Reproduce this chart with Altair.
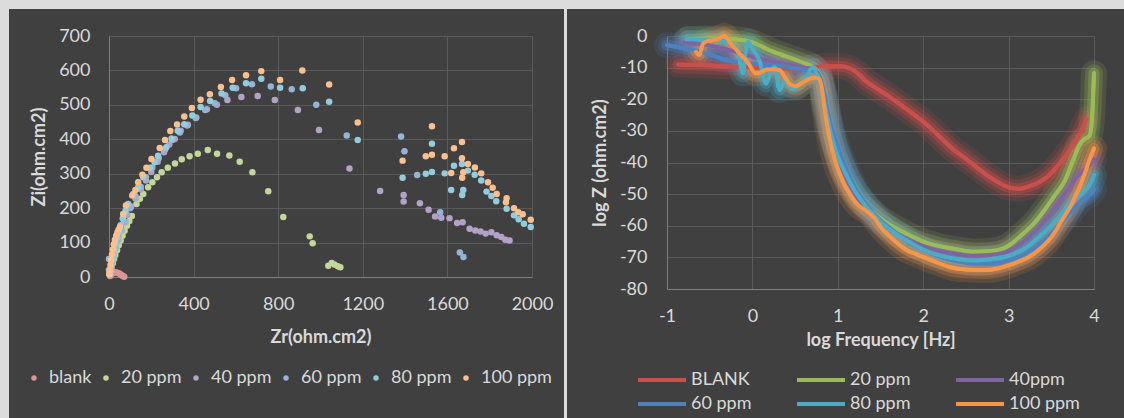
import altair as alt
import pandas as pd

# ---------------- Nyquist (left) data ----------------
nyq_names = ["blank", "20 ppm", "40 ppm", "60 ppm", "80 ppm", "100 ppm"]
nyq_colors = ["#d99694", "#c3d69b", "#b3a2c7", "#95b3d7", "#93cddd", "#fac090"]

blank_zr = [5, 10, 16, 22, 28, 35, 42, 48, 54, 60, 66, 72]
blank_zi = [3, 8, 11, 13, 14, 13, 12, 10, 8, 5, 3, 1]

p20_zr = [4, 8, 12, 18, 24, 30, 38, 46, 55, 64, 74, 85, 96, 108, 130, 146, 162, 185, 205, 227, 249, 278, 312,
          344, 381, 420, 467, 511, 569, 618, 678, 753, 824, 949, 963, 1037, 1053, 1066, 1082, 1094]
p20_zi = [8, 18, 28, 40, 52, 64, 78, 92, 106, 120, 134, 149, 163, 177, 212, 227, 241, 261, 275, 290, 304, 317, 330,
          342, 351, 358, 369, 358, 353, 335, 304, 249, 174, 118, 98, 33, 41, 36, 31, 28]

p40_zr = [3, 6, 10, 15, 21, 28, 36, 45, 56, 70, 86, 105, 125, 150, 175, 200, 230, 260, 285, 311, 339, 373, 413,
          463, 510, 560, 626, 703, 784, 893, 993, 1137, 1282, 1393, 1393, 1470, 1511, 1542, 1571, 1610, 1646,
          1672, 1705, 1732, 1757, 1781, 1808, 1833, 1855, 1874, 1894]
p40_zi = [8, 18, 32, 48, 65, 82, 100, 118, 137, 158, 180, 205, 228, 255, 280, 305, 335, 362, 385, 401, 425, 442,
          463, 487, 500, 514, 523, 526, 514, 485, 427, 315, 250, 238, 219, 214, 195, 176, 172, 171, 157,
          159, 140, 135, 132, 126, 130, 121, 116, 108, 106]

p60_zr = [0, 0, 4, 8, 14, 22, 32, 45, 60, 78, 100, 125, 150, 175, 205, 235, 265, 300, 335, 370, 410, 455, 500,
          550, 601, 676, 765, 864, 980, 1124, 1381, 1397, 1457, 1566, 1659, 1676]
p60_zi = [52, 20, 10, 25, 42, 62, 85, 110, 135, 160, 200, 235, 262, 290, 318, 345, 370, 398, 420, 440, 462, 485,
          505, 528, 548, 560, 553, 545, 500, 411, 408, 365, 296, 188, 71, 58]

p80_zr = [3, 6, 10, 14, 19, 25, 31, 38, 46, 55, 65, 78, 91, 115, 138, 162, 193, 216, 232, 271, 296, 325, 356,
          394, 433, 478, 532, 585, 648, 720, 809, 916, 1041, 1176, 1388, 1527, 1498, 1527, 1587, 1631, 1669,
          1618, 1675, 1670, 1697, 1729, 1760, 1785, 1808, 1831, 1880, 1915, 1937, 1962, 1994]
p80_zi = [8, 20, 35, 50, 65, 82, 98, 115, 132, 150, 170, 192, 212, 241, 261, 290, 317, 333, 352, 377, 402, 425,
          444, 469, 494, 511, 533, 550, 563, 576, 550, 548, 509, 398, 288, 387, 300, 305, 301, 323, 328,
          253, 253, 238, 309, 297, 280, 248, 235, 220, 198, 179, 168, 155, 145]

p100_zr = [2, 4, 7, 10, 14, 18, 23, 28, 34, 40, 46, 52, 67, 80, 110, 125, 138, 158, 177, 201, 240, 265, 290, 322,
           356, 392, 433, 477, 529, 582, 648, 720, 809, 914, 1041, 1176, 1388, 1527, 1498, 1527, 1587, 1631,
           1669, 1618, 1669, 1675, 1670, 1697, 1730, 1760, 1792, 1814, 1833, 1880, 1877, 1915, 1935, 1956, 1994]
p100_zi = [8, 20, 35, 50, 65, 80, 95, 108, 120, 130, 138, 145, 183, 208, 237, 253, 275, 297, 317, 343, 375, 398,
           424, 443, 466, 491, 515, 531, 552, 572, 586, 598, 572, 600, 559, 449, 338, 438, 351, 355, 351, 374,
           392, 302, 345, 304, 288, 328, 318, 301, 275, 259, 241, 229, 217, 200, 188, 182, 166]

nyq_series = [(blank_zr, blank_zi), (p20_zr, p20_zi), (p40_zr, p40_zi),
              (p60_zr, p60_zi), (p80_zr, p80_zi), (p100_zr, p100_zi)]

# ---------------- Bode (right) data ----------------
bode_names = ["BLANK", "20 ppm", "40ppm", "60 ppm", "80 ppm", "100 ppm"]
bode_colors = ["#c94f4c", "#9bbb59", "#8064a2", "#4f81bd", "#4bacc6", "#f79646"]

blank_x = [-0.87, -0.6, -0.3, 0.0, 0.3, 0.6, 0.85, 1.03, 1.14, 1.25, 1.34, 1.45, 1.61, 1.73, 1.85, 2.02, 2.2,
           2.35, 2.51, 2.65, 2.78, 2.9, 3.02, 3.12, 3.22, 3.34, 3.45, 3.58, 3.72, 3.84, 3.91]
blank_y = [-9.0, -9.2, -9.6, -10.0, -10.3, -10.2, -9.6, -9.6, -10.2, -12.2, -14.5, -16.5, -19.3, -21.6, -24.0,
           -27.5, -32.0, -35.8, -39.0, -42.0, -44.6, -46.6, -48.0, -48.3, -47.7, -46.5, -44.6, -40.9, -36.0,
           -30.7, -26.3]

b20_x = [-0.75, -0.5, -0.2, 0.0, 0.2, 0.4, 0.6, 0.72, 0.78, 0.85, 0.92, 1.0, 1.1, 1.2, 1.4, 1.6, 1.8, 2.0, 2.2,
         2.4, 2.6, 2.8, 3.0, 3.15, 3.31, 3.45, 3.54, 3.66, 3.74, 3.82, 3.87, 3.95, 3.98, 4.0]
b20_y = [-1.0, -0.8, -1.0, -2.0, -4.5, -6.5, -8.5, -10.0, -12.0, -20.0, -30.0, -37.0, -44.0, -49.0, -55.5, -59.5,
         -62.5, -65.0, -66.5, -67.5, -68.2, -68.0, -66.3, -63.0, -58.9, -54.0, -50.5, -45.7, -40.4, -35.0,
         -33.0, -31.4, -24.5, -11.8]

b40_x = [-0.8, -0.5, -0.2, 0.0, 0.2, 0.4, 0.6, 0.72, 0.8, 0.86, 0.93, 1.0, 1.1, 1.2, 1.4, 1.6, 1.8, 2.0, 2.2,
         2.4, 2.6, 2.8, 3.0, 3.15, 3.3, 3.45, 3.6, 3.72, 3.82, 3.9, 3.96, 4.0]
b40_y = [-2.0, -3.0, -5.0, -6.5, -8.0, -9.0, -10.0, -10.5, -14.0, -22.0, -31.0, -38.0, -45.0, -50.0, -56.5,
         -61.0, -64.0, -66.5, -68.0, -69.0, -69.5, -69.2, -68.0, -65.5, -62.0, -57.5, -52.0, -47.5, -44.0,
         -42.0, -40.5, -39.0]

b60_x = [-1.0, -0.7, -0.5, -0.31, -0.1, 0.1, 0.3, 0.5, 0.63, 0.72, 0.78, 0.84, 0.9, 1.0, 1.1, 1.2, 1.4, 1.6,
         1.8, 2.0, 2.2, 2.4, 2.6, 2.8, 3.0, 3.2, 3.4, 3.6, 3.75, 3.85, 3.95, 4.0]
b60_y = [-2.9, -4.4, -5.8, -7.6, -8.5, -9.0, -9.5, -10.2, -10.8, -11.0, -12.5, -18.0, -26.0, -35.0, -42.0,
         -48.0, -55.5, -60.5, -64.5, -67.5, -69.8, -71.2, -72.0, -72.0, -71.0, -68.8, -65.0, -59.5, -55.0,
         -52.0, -50.0, -48.5]

b80_x = [-0.77, -0.5, -0.3, -0.18, -0.11, -0.08, -0.05, 0.0, 0.08, 0.16, 0.22, 0.26, 0.32, 0.38, 0.47, 0.55,
         0.63, 0.71, 0.75, 0.80, 0.85, 0.92, 1.0, 1.1, 1.2, 1.4, 1.6, 1.8, 2.0, 2.2, 2.4, 2.6, 2.8, 3.0, 3.2,
         3.4, 3.6, 3.75, 3.85, 3.95, 4.0]
b80_y = [-1.0, -1.2, -1.8, -4.0, -11.8, -5.0, -1.8, -4.0, -7.6, -15.0, -11.0, -9.7, -17.1, -14.0, -16.6, -15.5,
         -13.0, -9.7, -11.8, -15.0, -22.0, -31.0, -38.0, -44.0, -49.0, -56.0, -61.0, -64.5, -67.5, -69.5,
         -70.5, -71.0, -70.5, -69.5, -67.0, -62.5, -57.0, -52.0, -50.0, -47.0, -44.0]

b100_x = [-0.66, -0.62, -0.58, -0.53, -0.46, -0.40, -0.33, -0.25, -0.15, -0.05, 0.04, 0.10, 0.16, 0.25, 0.32,
          0.38, 0.43, 0.51, 0.57, 0.63, 0.73, 0.78, 0.81, 0.84, 0.88, 0.93, 0.98, 1.06, 1.14, 1.24, 1.33, 1.42,
          1.52, 1.62, 1.72, 1.82, 1.92, 2.01, 2.15, 2.33, 2.5, 2.72, 2.87, 2.99, 3.12, 3.23, 3.38, 3.50, 3.62,
          3.74, 3.82, 3.89, 3.95, 4.0]
b100_y = [-5.0, -6.0, -2.5, -1.6, -1.3, -1.0, 0.0, -2.5, -5.5, -8.5, -11.8, -11.5, -10.6, -10.5, -10.8, -13.0,
          -15.0, -15.9, -15.0, -14.0, -13.1, -13.5, -16.0, -22.0, -29.0, -35.5, -40.4, -46.0, -49.9, -53.5,
          -55.2, -57.3, -61.0, -63.6, -66.0, -67.9, -69.0, -70.0, -71.5, -73.2, -73.8, -74.0, -73.5, -72.6,
          -71.3, -70.0, -67.0, -63.6, -58.5, -53.1, -48.5, -43.6, -39.0, -35.6]

bode_series = [(blank_x, blank_y), (b20_x, b20_y), (b40_x, b40_y),
               (b60_x, b60_y), (b80_x, b80_y), (b100_x, b100_y)]

# ---------------- tables ----------------
nyq_rows = []
for name, (zr, zi) in zip(nyq_names, nyq_series):
    for a, b in zip(zr, zi):
        nyq_rows.append({"series": name, "Zr": a, "Zi": b})
nyq_df = pd.DataFrame(nyq_rows)

bode_rows = []
for k, (name, (xs, ys)) in enumerate(zip(bode_names, bode_series)):
    for i, (a, b) in enumerate(zip(xs, ys)):
        bode_rows.append({"curve": name, "k": k, "i": i, "lf": a, "lz": b})
bode_df = pd.DataFrame(bode_rows)

PANEL = "#404040"
FRAME = "#dcdcdc"
TXT = "#d9d9d9"
FONT = "Lato"

axis_common = dict(
    grid=True, gridColor="#5a5a5a", gridOpacity=1, gridWidth=1,
    domainColor="#7f7f7f", domainWidth=1, ticks=False,
    labelColor=TXT, labelFont=FONT, labelFontSize=18,
    titleColor=TXT, titleFont=FONT, titleFontSize=18, titleFontWeight="bold",
    labelFlush=False, labelExpr="'' + datum.value",
)

one_row = alt.Data(values=[{"a": 1}])

# light frame strips (outside the plot areas): top strip, left strip, separator
frame_top = alt.Chart(one_row).mark_rect(color=FRAME).encode(
    x=alt.value(-109), x2=alt.value(1015), y=alt.value(-36), y2=alt.value(-27))
frame_left = alt.Chart(one_row).mark_rect(color=FRAME).encode(
    x=alt.value(-109), x2=alt.value(-100), y=alt.value(-36), y2=alt.value(382))
frame_sep = alt.Chart(one_row).mark_rect(color=FRAME).encode(
    x=alt.value(455), x2=alt.value(458), y=alt.value(-36), y2=alt.value(382))

# ---------------- left panel ----------------
scatter = alt.Chart(nyq_df).mark_circle(size=42, opacity=1).encode(
    x=alt.X("Zr:Q", scale=alt.Scale(domain=[0, 2000], nice=False),
            axis=alt.Axis(values=[0, 400, 800, 1200, 1600, 2000], title="Zr(ohm.cm2)",
                          labelPadding=18, titlePadding=15, **axis_common)),
    y=alt.Y("Zi:Q", scale=alt.Scale(domain=[0, 700], nice=False),
            axis=alt.Axis(values=[0, 100, 200, 300, 400, 500, 600, 700], title="Zi(ohm.cm2)",
                          labelPadding=19, titlePadding=10, **axis_common)),
    color=alt.Color("series:N", scale=alt.Scale(domain=nyq_names, range=nyq_colors),
                    legend=alt.Legend(title=None, orient="none", legendX=-84, legendY=333,
                                      direction="horizontal", columns=6, gridAlign="none",
                                      symbolType="circle",
                                      symbolSize=30, symbolOpacity=1, labelColor=TXT, labelFont=FONT,
                                      labelFontSize=18, labelOffset=6, columnPadding=5, padding=0)),
)

left = alt.layer(frame_top, frame_left, frame_sep, scatter).properties(width=423, height=241)

# ---------------- right panel ----------------
xenc = alt.X("lf:Q", scale=alt.Scale(domain=[-1, 4], nice=False),
             axis=alt.Axis(values=[-1, 0, 1, 2, 3, 4], title="log Frequency [Hz]",
                           labelPadding=18, titlePadding=6, **axis_common))
yenc = alt.Y("lz:Q", scale=alt.Scale(domain=[-80, 0], nice=False),
             axis=alt.Axis(values=list(range(-80, 1, 10)), title="log Z (ohm.cm2)",
                           labelPadding=20, titlePadding=10, **axis_common))

base = alt.Chart(bode_df).encode(x=xenc, y=yenc, order="i:Q")
line_scale = alt.Scale(domain=bode_names, range=bode_colors)

# first layer carries the legend (first explicit legend setting wins when layers merge)
# legend glyph: a long horizontal dash drawn as a custom path in a small symbol slot
legend_lines = base.mark_line(strokeWidth=4, strokeCap="round", strokeJoin="round",
                              interpolate="monotone").encode(
    color=alt.Color("curve:N", scale=line_scale,
                    legend=alt.Legend(title=None, orient="none", legendX=-17, legendY=332,
                                      direction="horizontal", columns=3, symbolType="M-2.5,0H2.5",
                                      symbolSize=369, symbolStrokeWidth=4, symbolOpacity=1,
                                      labelColor=TXT, labelFont=FONT, labelFontSize=18,
                                      labelOffset=17, gridAlign="all", columnPadding=26,
                                      rowPadding=3, padding=0))
)

glows = []
for w, op in [(26, 0.15), (18, 0.22), (11, 0.35)]:
    glows.append(
        base.mark_line(strokeWidth=w, opacity=op, strokeCap="round", strokeJoin="round",
                       interpolate="monotone").encode(
            color=alt.Color("curve:N", scale=line_scale, legend=None)
        )
    )

lines = base.mark_line(strokeWidth=4, strokeCap="round", strokeJoin="round",
                       interpolate="monotone").encode(
    color=alt.Color("curve:N", scale=line_scale, legend=None)
)

right = alt.layer(legend_lines, *glows, lines).properties(width=427, height=253)

chart = alt.hconcat(left, right, spacing=135, bounds="flush").resolve_scale(
    color="independent"
).resolve_legend(color="independent").configure(
    background=PANEL,
    padding=0,
    font=FONT,
).configure_view(stroke=None)

chart.save("out.html", embed_options={"renderer": "svg", "actions": False})
